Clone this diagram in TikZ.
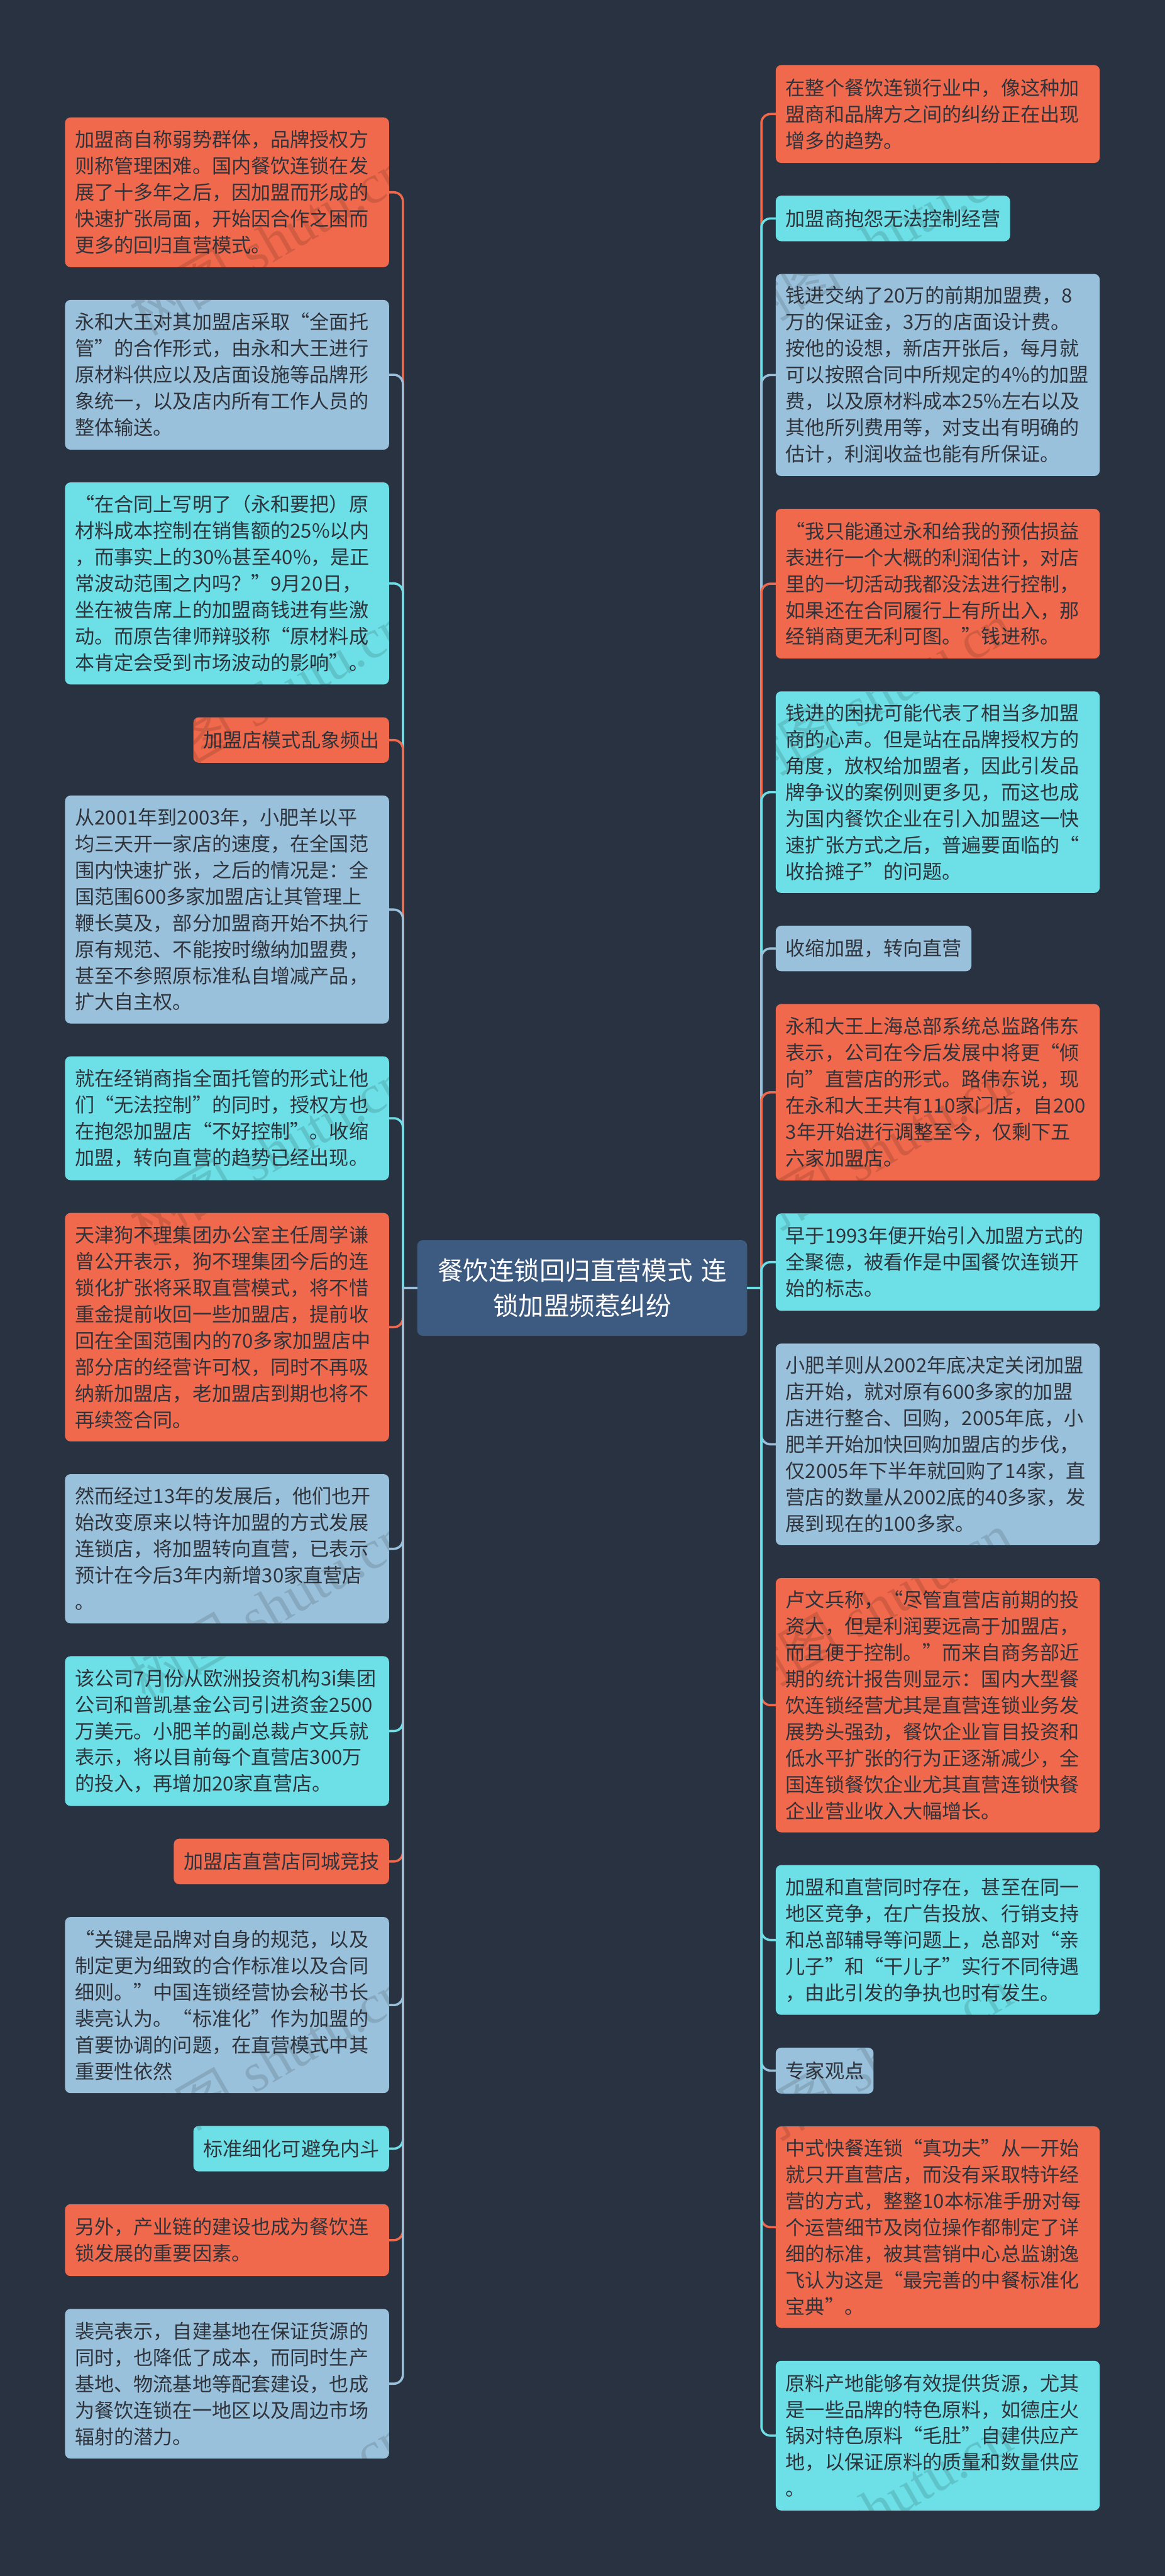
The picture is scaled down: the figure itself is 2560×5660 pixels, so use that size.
\documentclass[tikz,border=0pt]{standalone}
\usepackage{fontspec}
\newfontfamily\cjk{Noto Sans CJK SC}
\newfontfamily\wmserif{Liberation Serif}
\definecolor{bgc}{HTML}{293241}
\definecolor{orc}{HTML}{F0694C}
\definecolor{tlc}{HTML}{6CE0E6}
\definecolor{blc}{HTML}{9AC1DB}
\definecolor{rtc}{HTML}{3D5A80}
\definecolor{txc}{HTML}{2F333B}
\tikzset{
  x=1pt,y=-1pt,
  card/.style={anchor=north west,rounded corners=12pt,outer sep=0pt,inner xsep=22pt,inner ysep=0pt,
    align=left,text=txc,font=\cjk\fontsize{43}{58}\selectfont},
  wide/.style={card,minimum width=712pt,text width=668pt},
  org/.style={fill=orc},
  tel/.style={fill=tlc},
  blu/.style={fill=blc},
  rootbox/.style={anchor=north west,rounded corners=12pt,outer sep=0pt,inner sep=0pt,fill=rtc,text=white,
    align=center,minimum width=725pt,minimum height=210pt,text width=700pt,font=\cjk\fontsize{56}{77}\selectfont},
  conn/.style={line width=5pt,rounded corners=20pt},
  stub/.style={line width=5pt},
  wmark/.style={rotate=30,text=black,text opacity=.12,font=\fontsize{120}{120}\selectfont}
}
\begin{document}
\begin{tikzpicture}
\fill[bgc] (0,0) rectangle (2560,5660);
\useasboundingbox (0,0) rectangle (2560,5660);
\coordinate (LT) at (885.5,2830);
\coordinate (RT) at (1673.5,2830);
\node[rootbox] (root) at (917,2725) {餐饮连锁回归直营模式 连\\锁加盟频惹纠纷};
% left column
\node[wide,org,minimum height=329pt] (L1) at (143,258) {加盟商自称弱势群体，品牌授权方\\则称管理困难。国内餐饮连锁在发\\展了十多年之后，因加盟而形成的\\快速扩张局面，开始因合作之困而\\更多的回归直营模式。};
\node[wide,blu,minimum height=329pt] (L2) at (143,659) {永和大王对其加盟店采取“全面托\\管”的合作形式，由永和大王进行\\原材料供应以及店面设施等品牌形\\象统一，以及店内所有工作人员的\\整体输送。};
\node[wide,tel,minimum height=444pt] (L3) at (143,1060) {“在合同上写明了（永和要把）原\\材料成本控制在销售额的25\%以内\\，而事实上的30\%甚至40\%，是正\\常波动范围之内吗？”9月20日，\\坐在被告席上的加盟商钱进有些激\\动。而原告律师辩驳称“原材料成\\本肯定会受到市场波动的影响”。};
\node[card,org,minimum width=430pt,text width=386pt,minimum height=100pt] (L4) at (425,1576) {加盟店模式乱象频出};
\node[wide,blu,minimum height=501pt] (L5) at (143,1748) {从2001年到2003年，小肥羊以平\\均三天开一家店的速度，在全国范\\围内快速扩张，之后的情况是：全\\国范围600多家加盟店让其管理上\\鞭长莫及，部分加盟商开始不执行\\原有规范、不能按时缴纳加盟费，\\甚至不参照原标准私自增减产品，\\扩大自主权。};
\node[wide,tel,minimum height=272pt] (L6) at (143,2321) {就在经销商指全面托管的形式让他\\们“无法控制”的同时，授权方也\\在抱怨加盟店“不好控制”。收缩\\加盟，转向直营的趋势已经出现。};
\node[wide,org,minimum height=502pt] (L7) at (143,2665) {天津狗不理集团办公室主任周学谦\\曾公开表示，狗不理集团今后的连\\锁化扩张将采取直营模式，将不惜\\重金提前收回一些加盟店，提前收\\回在全国范围内的70多家加盟店中\\部分店的经营许可权，同时不再吸\\纳新加盟店，老加盟店到期也将不\\再续签合同。};
\node[wide,blu,minimum height=328pt] (L8) at (143,3239) {然而经过13年的发展后，他们也开\\始改变原来以特许加盟的方式发展\\连锁店，将加盟转向直营，已表示\\预计在今后3年内新增30家直营店\\。};
\node[wide,tel,minimum height=329pt] (L9) at (143,3639) {该公司7月份从欧洲投资机构3i集团\\公司和普凯基金公司引进资金2500\\万美元。小肥羊的副总裁卢文兵就\\表示，将以目前每个直营店300万\\的投入，再增加20家直营店。};
\node[card,org,minimum width=473pt,text width=429pt,minimum height=100pt] (L10) at (382,4040) {加盟店直营店同城竞技};
\node[wide,blu,minimum height=387pt] (L11) at (143,4212) {“关键是品牌对自身的规范，以及\\制定更为细致的合作标准以及合同\\细则。”中国连锁经营协会秘书长\\裴亮认为。“标准化”作为加盟的\\首要协调的问题，在直营模式中其\\重要性依然};
\node[card,tel,minimum width=430pt,text width=386pt,minimum height=100pt] (L12) at (425,4671) {标准细化可避免内斗};
\node[wide,org,minimum height=158pt] (L13) at (143,4843) {另外，产业链的建设也成为餐饮连\\锁发展的重要因素。};
\node[wide,blu,minimum height=329pt] (L14) at (143,5073) {裴亮表示，自建基地在保证货源的\\同时，也降低了成本，而同时生产\\基地、物流基地等配套建设，也成\\为餐饮连锁在一地区以及周边市场\\辐射的潜力。};
% right column
\node[wide,org,minimum height=215pt] (R1) at (1705,143) {在整个餐饮连锁行业中，像这种加\\盟商和品牌方之间的纠纷正在出现\\增多的趋势。};
\node[card,tel,minimum width=515pt,text width=471pt,minimum height=100pt] (R2) at (1705,430) {加盟商抱怨无法控制经营};
\node[wide,blu,minimum height=444pt] (R3) at (1705,602) {钱进交纳了20万的前期加盟费，8\\万的保证金，3万的店面设计费。\\按他的设想，新店开张后，每月就\\可以按照合同中所规定的4\%的加盟\\费，以及原材料成本25\%左右以及\\其他所列费用等，对支出有明确的\\估计，利润收益也能有所保证。};
\node[wide,org,minimum height=329pt] (R4) at (1705,1118) {“我只能通过永和给我的预估损益\\表进行一个大概的利润估计，对店\\里的一切活动我都没法进行控制，\\如果还在合同履行上有所出入，那\\经销商更无利可图。”钱进称。};
\node[wide,tel,minimum height=443pt] (R5) at (1705,1519) {钱进的困扰可能代表了相当多加盟\\商的心声。但是站在品牌授权方的\\角度，放权给加盟者，因此引发品\\牌争议的案例则更多见，而这也成\\为国内餐饮企业在引入加盟这一快\\速扩张方式之后，普遍要面临的“\\收拾摊子”的问题。};
\node[card,blu,minimum width=430pt,text width=386pt,minimum height=100pt] (R6) at (1705,2034) {收缩加盟，转向直营};
\node[wide,org,minimum height=388pt] (R7) at (1705,2206) {永和大王上海总部系统总监路伟东\\表示，公司在今后发展中将更“倾\\向”直营店的形式。路伟东说，现\\在永和大王共有110家门店，自200\\3年开始进行调整至今，仅剩下五\\六家加盟店。};
\node[wide,tel,minimum height=214pt] (R8) at (1705,2666) {早于1993年便开始引入加盟方式的\\全聚德，被看作是中国餐饮连锁开\\始的标志。};
\node[wide,blu,minimum height=443pt] (R9) at (1705,2952) {小肥羊则从2002年底决定关闭加盟\\店开始，就对原有600多家的加盟\\店进行整合、回购，2005年底，小\\肥羊开始加快回购加盟店的步伐，\\仅2005年下半年就回购了14家，直\\营店的数量从2002底的40多家，发\\展到现在的100多家。};
\node[wide,org,minimum height=559pt] (R10) at (1705,3467) {卢文兵称，“尽管直营店前期的投\\资大，但是利润要远高于加盟店，\\而且便于控制。”而来自商务部近\\期的统计报告则显示：国内大型餐\\饮连锁经营尤其是直营连锁业务发\\展势头强劲，餐饮企业盲目投资和\\低水平扩张的行为正逐渐减少，全\\国连锁餐饮企业尤其直营连锁快餐\\企业营业收入大幅增长。};
\node[wide,tel,minimum height=329pt] (R11) at (1705,4098) {加盟和直营同时存在，甚至在同一\\地区竞争，在广告投放、行销支持\\和总部辅导等问题上，总部对“亲\\儿子”和“干儿子”实行不同待遇\\，由此引发的争执也时有发生。};
\node[card,blu,minimum width=215pt,text width=171pt,minimum height=101pt] (R12) at (1705,4499) {专家观点};
\node[wide,org,minimum height=443pt] (R13) at (1705,4672) {中式快餐连锁“真功夫”从一开始\\就只开直营店，而没有采取特许经\\营的方式，整整10本标准手册对每\\个运营细节及岗位操作都制定了详\\细的标准，被其营销中心总监谢逸\\飞认为这是“最完善的中餐标准化\\宝典”。};
\node[wide,tel,minimum height=329pt] (R14) at (1705,5187) {原料产地能够有效提供货源，尤其\\是一些品牌的特色原料，如德庄火\\锅对特色原料“毛肚”自建供应产\\地，以保证原料的质量和数量供应\\。};
% connectors, in drawing order
\draw[conn,orc] (L1.east) -| (LT);
\draw[conn,blc] (L2.east) -| (LT);
\draw[conn,tlc] (L3.east) -| (LT);
\draw[conn,orc] (L4.east) -| (LT);
\draw[conn,blc] (L5.east) -| (LT);
\draw[conn,tlc] (L6.east) -| (LT);
\draw[conn,orc] (L7.east) -| (LT);
\draw[conn,blc] (L8.east) -| (LT);
\draw[conn,tlc] (L9.east) -| (LT);
\draw[conn,orc] (L10.east) -| (LT);
\draw[conn,blc] (L11.east) -| (LT);
\draw[conn,tlc] (L12.east) -| (LT);
\draw[conn,orc] (L13.east) -| (LT);
\draw[conn,blc] (L14.east) -| (LT);
\draw[stub,blc] (LT) -- (root.west);
\draw[conn,orc] (R1.west) -| (RT);
\draw[conn,tlc] (R2.west) -| (RT);
\draw[conn,blc] (R3.west) -| (RT);
\draw[conn,orc] (R4.west) -| (RT);
\draw[conn,tlc] (R5.west) -| (RT);
\draw[conn,blc] (R6.west) -| (RT);
\draw[conn,orc] (R7.west) -| (RT);
\draw[conn,tlc] (R8.west) -| (RT);
\draw[conn,blc] (R9.west) -| (RT);
\draw[conn,orc] (R10.west) -| (RT);
\draw[conn,tlc] (R11.west) -| (RT);
\draw[conn,blc] (R12.west) -| (RT);
\draw[conn,orc] (R13.west) -| (RT);
\draw[conn,tlc] (R14.west) -| (RT);
\draw[stub,tlc] (RT) -- (root.east);
% watermark, seen only on the cards
\begin{scope}
\clip[rounded corners=12pt]
  (143,258) rectangle (855,587) (143,659) rectangle (855,988) (143,1060) rectangle (855,1504)
  (425,1576) rectangle (855,1676) (143,1748) rectangle (855,2249) (143,2321) rectangle (855,2593)
  (143,2665) rectangle (855,3167) (143,3239) rectangle (855,3567) (143,3639) rectangle (855,3968)
  (382,4040) rectangle (855,4140) (143,4212) rectangle (855,4599) (425,4671) rectangle (855,4771)
  (143,4843) rectangle (855,5001) (143,5073) rectangle (855,5402)
  (1705,143) rectangle (2417,358) (1705,430) rectangle (2220,530) (1705,602) rectangle (2417,1046)
  (1705,1118) rectangle (2417,1447) (1705,1519) rectangle (2417,1962) (1705,2034) rectangle (2135,2134)
  (1705,2206) rectangle (2417,2594) (1705,2666) rectangle (2417,2880) (1705,2952) rectangle (2417,3395)
  (1705,3467) rectangle (2417,4026) (1705,4098) rectangle (2417,4427) (1705,4499) rectangle (1920,4600)
  (1705,4672) rectangle (2417,5115) (1705,5187) rectangle (2417,5516);
\foreach \i/\yy in {0/530,1/1530,2/2530,3/3530,4/4530,5/5510}{
  \node[wmark] (wl\i) at (591,\yy) {{\cjk 树图} {\wmserif shutu.cn}};
  \node[wmark] (wr\i) at (1916,\yy) {{\cjk 树图} {\wmserif shutu.cn}};
}
\end{scope}
\end{tikzpicture}
\end{document}
